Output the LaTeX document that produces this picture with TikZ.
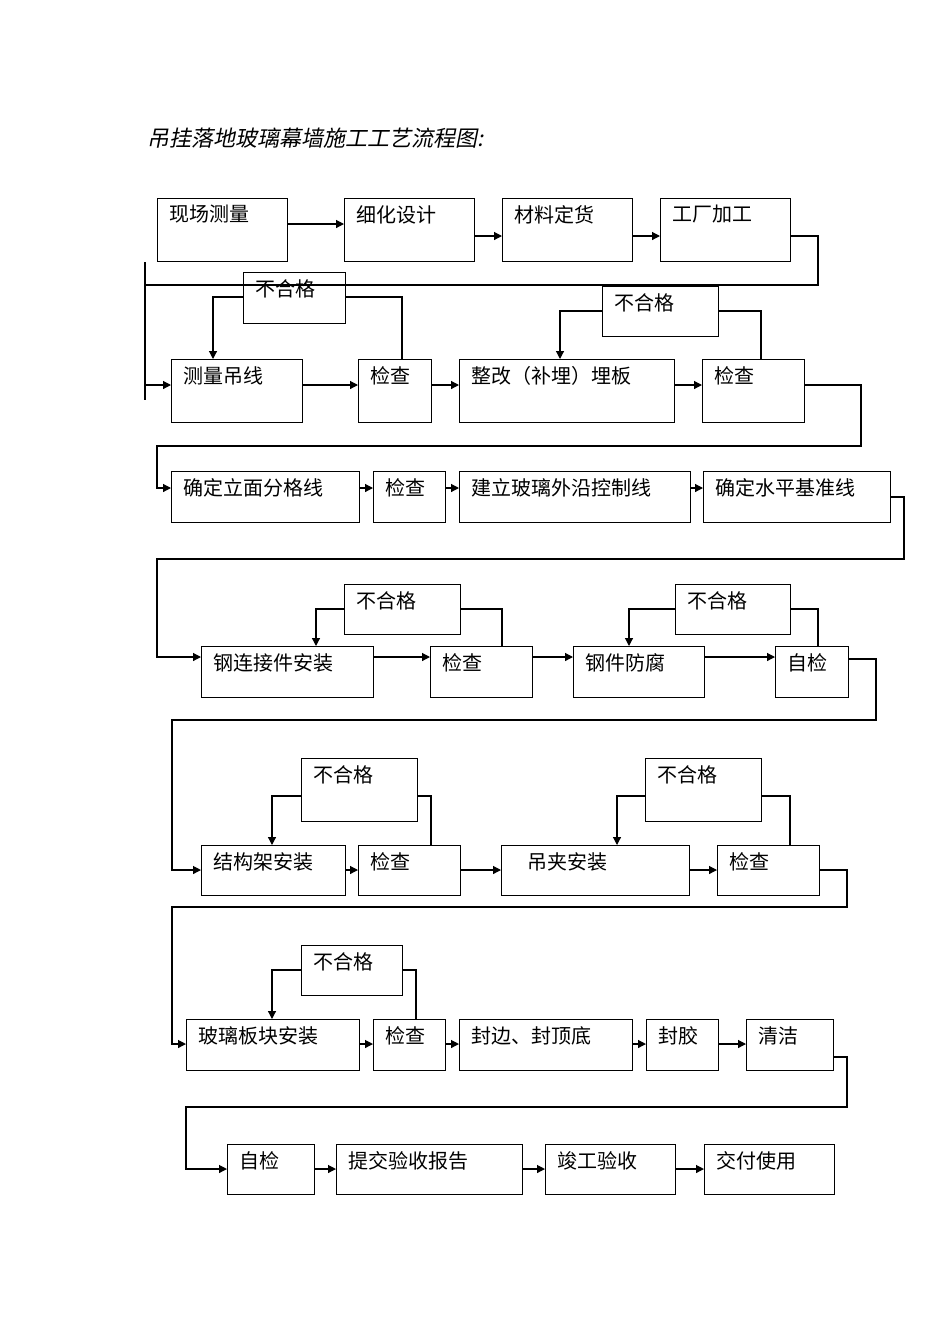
\documentclass[tikz,border=0pt]{standalone}
\usepackage{fontspec}
\newfontfamily\cjk{Noto Sans CJK SC}
\newfontfamily\cjksl[FakeSlant=0.2]{Noto Sans CJK SC}
\usetikzlibrary{arrows.meta}
\tikzset{
 boxst/.style={draw,line width=0.6pt,inner sep=0pt,anchor=north west},
 txt/.style={anchor=north west,inner sep=0pt,font=\cjk\fontsize{10}{12}\selectfont},
 ln/.style={line width=0.6pt},
 arr/.style={line width=0.6pt,-{Triangle[length=4pt,width=4pt]}}
}
\newcommand\bx[6]{%
 \pgfmathsetmacro\bw{(#4-#2)*0.5}\pgfmathsetmacro\bh{(#5-#3)*0.5}%
 \node[boxst,minimum width=\bw pt,minimum height=\bh pt] (#1) at (#2,#3) {};
 \node[txt] (#1t) at ([xshift=6pt,yshift=-3.5pt]#1.north west) {#6};}
\begin{document}
\begin{tikzpicture}[x=0.5pt,y=-0.5pt]
\useasboundingbox (0,0) rectangle (950,1344);
\node[anchor=west,inner sep=0pt,font=\cjksl\fontsize{11}{13}\selectfont] (title) at (147,138) {吊挂落地玻璃幕墙施工工艺流程图:};
% row 1
\bx{A}{157}{198}{287}{261}{现场测量}
\bx{B}{344}{198}{474}{261}{细化设计}
\bx{C}{502}{198}{632}{261}{材料定货}
\bx{D}{660}{198}{790}{261}{工厂加工}
\draw[arr] (A.east|-0,224) -- (B.west|-0,224);
\draw[arr] (B.east|-0,236) -- (C.west|-0,236);
\draw[arr] (C.east|-0,236) -- (D.west|-0,236);
% row 2
\bx{E}{171}{359}{302}{422}{测量吊线}
\bx{F}{358}{359}{431}{422}{检查}
\bx{G}{459}{359}{674}{422}{整改（补埋）埋板}
\bx{H}{702}{359}{804}{422}{检查}
\bx{N1}{243}{272}{345}{323}{不合格}
\bx{N2}{602}{286}{718}{336}{不合格}
\coordinate (s1) at (145,262); \coordinate (s2) at (145,400);
\draw[ln] (s1) -- (s2);
\draw[arr] (D.east|-0,236) -- (818,236) -- (818,285) -- (145,285) -- (145,385) -- (E.west|-0,385);
\draw[arr] (N1.west|-0,297) -| (E.north-|213,0);
\draw[ln] (N1.east|-0,297) -| (F.north-|402,0);
\draw[arr] (N2.west|-0,311) -| (G.north-|560,0);
\draw[ln] (N2.east|-0,311) -| (H.north-|761,0);
\draw[arr] (E.east|-0,385) -- (F.west|-0,385);
\draw[arr] (F.east|-0,385) -- (G.west|-0,385);
\draw[arr] (G.east|-0,385) -- (H.west|-0,385);
% row 3
\bx{I}{171}{471}{359}{522}{确定立面分格线}
\bx{J}{373}{471}{445}{522}{检查}
\bx{K}{459}{471}{690}{522}{建立玻璃外沿控制线}
\bx{L}{703}{471}{890}{522}{确定水平基准线}
\draw[arr] (H.east|-0,385) -- (861,385) -- (861,446) -- (157,446) -- (157,488) -- (I.west|-0,488);
\draw[arr] (I.east|-0,488) -- (J.west|-0,488);
\draw[arr] (J.east|-0,488) -- (K.west|-0,488);
\draw[arr] (K.east|-0,488) -- (L.west|-0,488);
% row 4
\bx{M}{201}{646}{373}{697}{钢连接件安装}
\bx{N}{430}{646}{532}{697}{检查}
\bx{O}{573}{646}{704}{697}{钢件防腐}
\bx{P}{775}{646}{848}{697}{自检}
\bx{N3}{344}{584}{460}{634}{不合格}
\bx{N4}{675}{584}{790}{634}{不合格}
\draw[arr] (L.east|-0,497) -- (904,497) -- (904,559) -- (157,559) -- (157,657) -- (M.west|-0,657);
\draw[arr] (N3.west|-0,609) -| (M.north-|316,0);
\draw[ln] (N3.east|-0,609) -| (N.north-|502,0);
\draw[arr] (N4.west|-0,609) -| (O.north-|629,0);
\draw[ln] (N4.east|-0,609) -| (P.north-|818,0);
\draw[arr] (M.east|-0,657) -- (N.west|-0,657);
\draw[arr] (N.east|-0,657) -- (O.west|-0,657);
\draw[arr] (O.east|-0,657) -- (P.west|-0,657);
% row 5
\bx{Q}{201}{845}{345}{895}{结构架安装}
\bx{R}{358}{845}{460}{895}{检查}
\bx{S}{501}{845}{689}{895}{\hspace{7pt}吊夹安装}
\bx{T}{717}{845}{819}{895}{检查}
\bx{N5}{301}{758}{417}{821}{不合格}
\bx{N6}{645}{758}{761}{821}{不合格}
\draw[arr] (P.east|-0,659) -- (876,659) -- (876,720) -- (172,720) -- (172,870) -- (Q.west|-0,870);
\draw[arr] (N5.west|-0,796) -| (Q.north-|272,0);
\draw[ln] (N5.east|-0,796) -| (R.north-|431,0);
\draw[arr] (N6.west|-0,796) -| (S.north-|617,0);
\draw[ln] (N6.east|-0,796) -| (T.north-|790,0);
\draw[arr] (Q.east|-0,870) -- (R.west|-0,870);
\draw[arr] (R.east|-0,870) -- (S.west|-0,870);
\draw[arr] (S.east|-0,870) -- (T.west|-0,870);
% row 6
\bx{U}{186}{1019}{359}{1070}{玻璃板块安装}
\bx{V}{373}{1019}{445}{1070}{检查}
\bx{W}{459}{1019}{632}{1070}{封边、封顶底}
\bx{X}{646}{1019}{718}{1070}{封胶}
\bx{Y}{746}{1019}{833}{1070}{清洁}
\bx{N7}{301}{945}{402}{995}{不合格}
\draw[arr] (T.east|-0,870) -- (847,870) -- (847,907) -- (172,907) -- (172,1044) -- (U.west|-0,1044);
\draw[arr] (N7.west|-0,970) -| (U.north-|272,0);
\draw[ln] (N7.east|-0,970) -| (V.north-|416,0);
\draw[arr] (U.east|-0,1044) -- (V.west|-0,1044);
\draw[arr] (V.east|-0,1044) -- (W.west|-0,1044);
\draw[arr] (W.east|-0,1044) -- (X.west|-0,1044);
\draw[arr] (X.east|-0,1044) -- (Y.west|-0,1044);
% row 7
\bx{Z1}{227}{1144}{314}{1194}{自检}
\bx{Z2}{336}{1144}{522}{1194}{提交验收报告}
\bx{Z3}{545}{1144}{675}{1194}{竣工验收}
\bx{Z4}{704}{1144}{834}{1194}{交付使用}
\draw[arr] (Y.east|-0,1057) -- (847,1057) -- (847,1107) -- (186,1107) -- (186,1169) -- (Z1.west|-0,1169);
\draw[arr] (Z1.east|-0,1169) -- (Z2.west|-0,1169);
\draw[arr] (Z2.east|-0,1169) -- (Z3.west|-0,1169);
\draw[arr] (Z3.east|-0,1169) -- (Z4.west|-0,1169);
\end{tikzpicture}
\end{document}
